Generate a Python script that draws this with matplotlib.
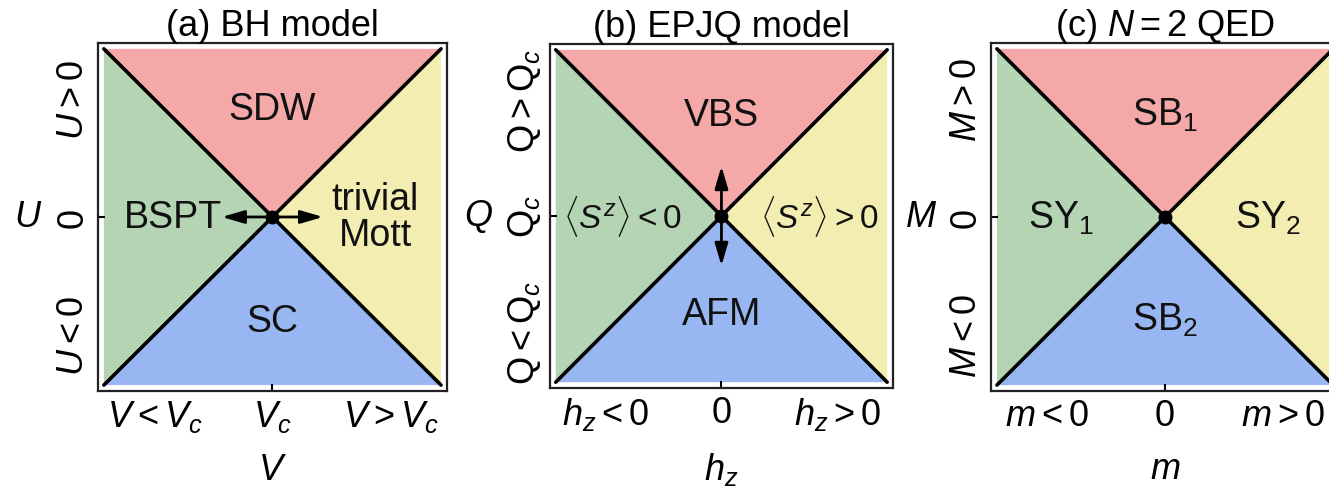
import matplotlib
matplotlib.use("Agg")
import matplotlib.pyplot as plt

plt.rcParams['font.family'] = ['Liberation Sans', 'DejaVu Sans']
plt.rcParams['mathtext.fontset'] = 'custom'
plt.rcParams['mathtext.rm'] = 'Liberation Sans'
plt.rcParams['mathtext.it'] = 'Liberation Sans:italic'
plt.rcParams['mathtext.bf'] = 'Liberation Sans:bold'

# panel texts
titles = ["(a) BH model", "(b) EPJQ model", r"(c) $N = 2$ QED"]
xlabels = [r"$V$", r"$h_z$", r"$m$"]
ylabels = [r"$U$", r"$Q$", r"$M$"]
xticklabels = [[r"$V<V_c$", r"$V_c$", r"$V>V_c$"],
               [r"$h_z<0$", "0", r"$h_z>0$"],
               [r"$m<0$", "0", r"$m>0$"]]
yticklabels = [[r"$U<0$", "0", r"$U>0$"],
               [r"$\mathrm{Q}<\mathrm{Q}_c$", r"$\mathrm{Q}_c$", r"$\mathrm{Q}>\mathrm{Q}_c$"],
               [r"$M<0$", "0", r"$M>0$"]]
tick_pos = [-0.7, 0, 0.7]

# phase names: top, left, right, bottom
phases = [["SDW", "BSPT", "trivial\nMott", "SC"],
          ["VBS", r"$\langle S^z\rangle<0$", r"$\langle S^z\rangle>0$", "AFM"],
          ["SB$_1$", "SY$_1$", "SY$_2$", "SB$_2$"]]
phase_colors = ["#f4a9a8", "#b4d4b4", "#f4edb2", "#98b6f1"]
label_xy = [[(0, 0.64), (-0.3, 0), (0.61, 0), (0, -0.62)],
            [(0, 0.61), (-0.6, 0), (0.59, 0), (0, -0.59)],
            [(0, 0.61), (-0.62, 0), (0.61, 0), (0, -0.61)]]
label_size = [[27, 27, 27, 27],
              [27, 24, 24, 27],
              [27, 27, 27, 27]]
arrow_dir = ["h", "v", None]
arrow_len = 0.3

boxes = [[0.0737, 0.1984, 0.2626, 0.7117],
         [0.4138, 0.2045, 0.2581, 0.7035],
         [0.7457, 0.1984, 0.2619, 0.7117]]

fig = plt.figure(figsize=(13.29, 4.89), dpi=100)

for i in range(3):
    ax = fig.add_axes(boxes[i])
    # four triangular regions meeting at the critical point
    tri = [[(-1, 1), (1, 1), (0, 0)],
           [(-1, 1), (-1, -1), (0, 0)],
           [(1, 1), (1, -1), (0, 0)],
           [(-1, -1), (1, -1), (0, 0)]]
    for k in range(4):
        xs = [p[0] for p in tri[k]]
        ys = [p[1] for p in tri[k]]
        ax.fill(xs, ys, color=phase_colors[k], lw=0)
    ax.plot([-1, 1], [1, -1], color='k', lw=2.6, solid_capstyle='round')
    ax.plot([-1, 1], [-1, 1], color='k', lw=2.6, solid_capstyle='round')
    ax.plot([0], [0], 'o', color='k', ms=9)

    if arrow_dir[i] is not None:
        for s in (-1, 1):
            end = (s * arrow_len, 0) if arrow_dir[i] == "h" else (0, s * arrow_len)
            ax.annotate("", xy=end, xytext=(0, 0),
                        arrowprops=dict(arrowstyle="-|>,head_length=0.75,head_width=0.22",
                                        color='k', lw=2, mutation_scale=18,
                                        shrinkA=0, shrinkB=0))

    for k in range(4):
        x, y = label_xy[i][k]
        ha = 'center'
        if i == 0 and k == 1:
            ha = 'right'
        ax.text(x, y, phases[i][k], ha=ha, va='center', fontsize=label_size[i][k],
                color='#111111', linespacing=1.0)

    ax.set_xlim(-1.035, 1.035)
    ax.set_ylim(-1.035, 1.035)
    ax.set_xticks(tick_pos)
    ax.set_yticks(tick_pos)
    ax.set_xticklabels(xticklabels[i], fontsize=26)
    ax.set_yticklabels(yticklabels[i], fontsize=26, rotation=90, va='center')
    ax.tick_params(direction='in', length=5, width=1.5, pad=5, colors='k')
    for t in (0, 2):
        ax.xaxis.get_major_ticks()[t].tick1line.set_visible(False)
        ax.yaxis.get_major_ticks()[t].tick1line.set_visible(False)
    for sp in ax.spines.values():
        sp.set_linewidth(1.6)
        sp.set_color('#222222')

    ax.set_title(titles[i], fontsize=26, pad=6)
    ax.set_xlabel(xlabels[i], fontsize=26, labelpad=13)
    ax.set_ylabel(ylabels[i], fontsize=26, rotation=0, va='center', labelpad=20)

fig.savefig("out.png", dpi=100)
